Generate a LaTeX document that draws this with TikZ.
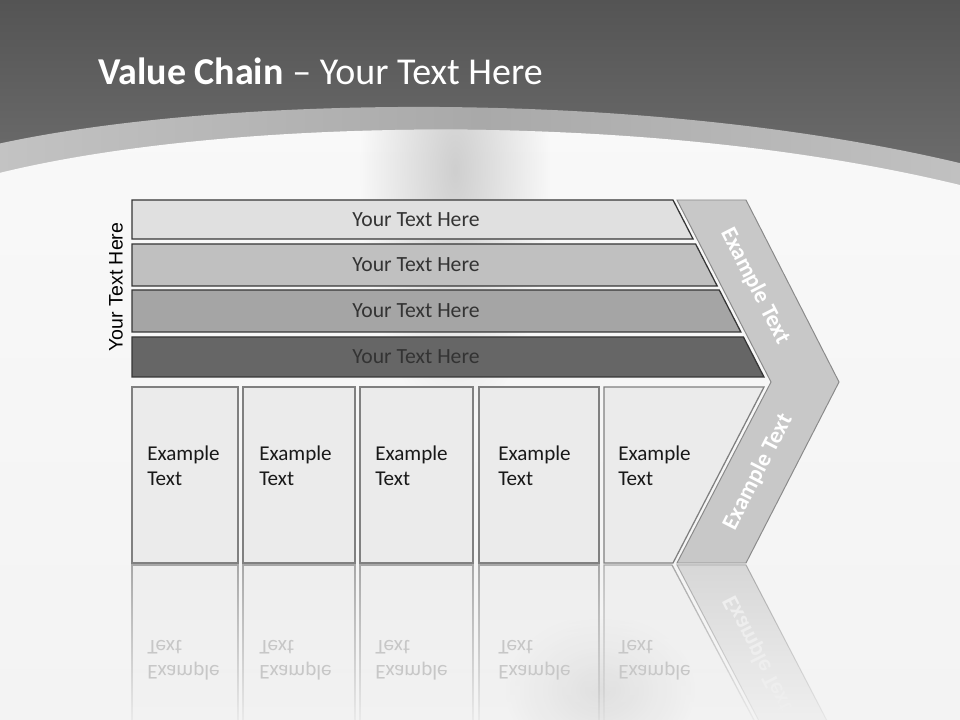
\documentclass[tikz,border=0pt]{standalone}
\usepackage{fontspec}
\setmainfont{Carlito}
\newfontfamily\labelfont{Liberation Sans}
\usepackage{xcolor}
\usetikzlibrary{positioning,fadings}

\definecolor{hdrtop}{HTML}{545454}
\definecolor{hdrbot}{HTML}{737373}
\definecolor{bandL}{HTML}{C4C4C4}
\definecolor{bandM}{HTML}{A9A9A9}
\definecolor{bandR}{HTML}{C2C2C2}
\definecolor{bgtop}{HTML}{F9F9F9}
\definecolor{bgcol}{HTML}{F3F3F3}
\definecolor{streak}{HTML}{CFCFCF}
\definecolor{barA}{HTML}{E0E0E0}
\definecolor{barB}{HTML}{C0C0C0}
\definecolor{barC}{HTML}{A5A5A5}
\definecolor{barD}{HTML}{666666}
\definecolor{barline}{HTML}{363636}
\definecolor{boxfill}{HTML}{EBEBEB}
\definecolor{boxline}{HTML}{808080}
\definecolor{chevfill}{HTML}{C8C8C8}
\definecolor{chevline}{HTML}{8A8A8A}
\definecolor{txtdark}{HTML}{333333}

\tikzfading[name=reflectfade, top color=transparent!35, middle color=transparent!85, bottom color=transparent!100]
\tikzfading[name=softblob, inner color=transparent!0, outer color=transparent!100]

\begin{document}
\begin{tikzpicture}[x=0.025cm, y=-0.025cm,
    barshape/.style={draw=barline, line width=0.9pt, line join=miter},
    boxshape/.style={draw=boxline, fill=boxfill, line width=0.9pt},
    chevshape/.style={draw=chevline, fill=chevfill, line width=0.7pt},
    bartext/.style={text=txtdark, font=\fontsize{15.4pt}{18pt}\selectfont},
    boxtext/.style={anchor=north west, inner sep=0pt, align=left, text=black!90,
        font=\fontsize{15pt}{17.8pt}\selectfont},
    chevtext/.style={text=white, font=\bfseries\fontsize{16.5pt}{19pt}\selectfont},
    ghostbox/.style={draw=boxline, fill=boxfill, line width=0.9pt, path fading=reflectfade},
    ghosttext/.style={boxtext, text=black!22, yscale=-1}]

    \useasboundingbox (0,0) rectangle (960,720);
    \clip (0,0) rectangle (960,720);

    % Header and curved band
    \shade [top color=hdrtop, bottom color=hdrbot] (0,0) rectangle (960,220);
    \shade [left color=bandL, right color=bandR, middle color=bandM]
        (-20,148) .. controls (200,95) and (650,85) .. (980,168) -- (980,260) -- (-20,260) -- cycle;
    \begin{scope}
        \clip (-20,178) .. controls (200,118) and (650,105) .. (980,190) -- (980,720) -- (-20,720) -- cycle;
        \shade [top color=bgtop, bottom color=bgcol] (-20,100) rectangle (980,720);
        % soft background shadows
        \fill [streak, path fading=softblob] (455,170) ellipse [x radius=95, y radius=250];
        \fill [gray!45, opacity=0.45, path fading=softblob] (600,690) ellipse [x radius=95, y radius=75];
    \end{scope}

    \node [anchor=base west, inner sep=0pt, text=white, font=\fontsize{27pt}{31pt}\selectfont] (title) at (98,85)
        {\textbf{Value Chain} -- Your Text Here};

    % Support rows
    \foreach \nm/\yt/\yb/\col in {1/200/239/barA, 2/244/286/barB, 3/290/332/barC, 4/337/377/barD} {
        \pgfmathsetmacro\xt{673+0.514*(\yt-200)}
        \pgfmathsetmacro\xb{673+0.514*(\yb-200)}
        \draw [barshape, fill=\col] (132,\yt) -- (\xt,\yt) -- (\xb,\yb) -- (132,\yb) -- cycle;
        \node [bartext] (row\nm) at (416,{(\yt+\yb)/2}) {Your Text Here};
    }
    \node [rotate=90, font=\labelfont\fontsize{13.9pt}{16pt}\selectfont] (side) at (116,287) {Your Text Here};

    % Primary columns
    \foreach \nm/\xl/\xr/\xs in {1/132/238/147, 2/243/355/259, 3/360/473/375, 4/479/599/498} {
        \draw [boxshape] (\xl,387) rectangle (\xr,563);
        \node [boxtext] (col\nm) at (\xs,445.5) {Example\\Text};
    }
    \draw [boxshape] (604,387) -- (764,387) -- (673,563) -- (604,563) -- cycle;
    \node [boxtext] (col5) at (618,445.5) {Example\\Text};

    % Margin chevron
    \draw [chevshape] (677,200) -- (746,200) -- (839,382) -- (746,563) -- (677,563) -- (771,382) -- cycle;
    \node [chevtext, rotate=-62.9] (marginA) at (755,286) {Example Text};
    \node [chevtext, rotate=62.9] (marginB) at (758,472) {Example Text};

    % Reflection
    \foreach \nm/\xl/\xr/\xs in {1/132/238/147, 2/243/355/259, 3/360/473/375, 4/479/599/498, 5/604/604/618} {
        \ifnum\nm<5
            \draw [ghostbox] (\xl,565) rectangle (\xr,739);
        \else
            \draw [ghostbox] (604,565) -- (672,565) -- (764,739) -- (604,739) -- cycle;
        \fi
        \node [ghosttext] (ghost\nm) at (\xs,680.5) {Example\\Text};
    }
    \draw [chevshape, path fading=reflectfade] (677,565) -- (746,565) -- (839,744) -- (771,744) -- cycle;
    \node [chevtext, text=white!70!chevfill, rotate=-62.9, yscale=-1] (ghostB) at (758,654) {Example Text};

\end{tikzpicture}
\end{document}
